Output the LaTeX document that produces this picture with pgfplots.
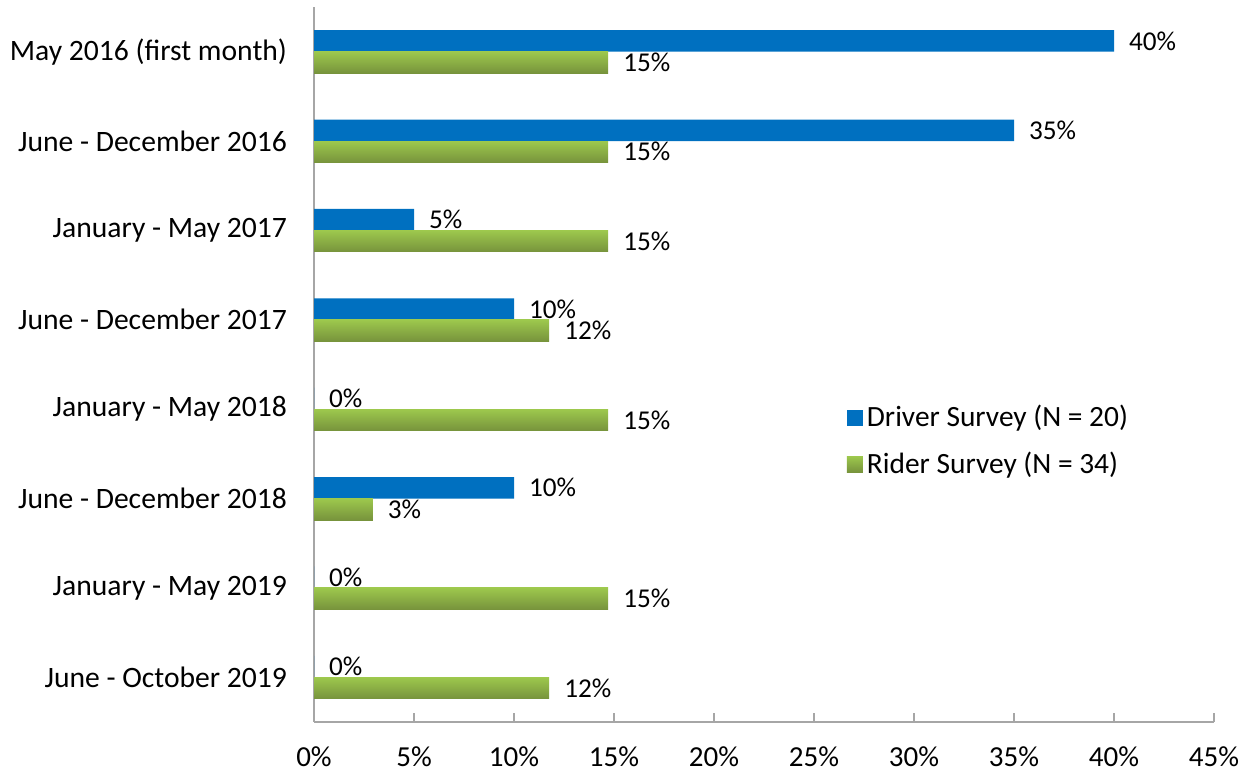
\documentclass[border=0pt]{standalone}
\usepackage{fontspec}
\setmainfont{Carlito}
\usepackage{pgfplots}
\pgfplotsset{compat=1.18}
\definecolor{drv}{HTML}{0070C0}
\definecolor{ridtop}{HTML}{9DC84D}
\definecolor{ridbot}{HTML}{77933C}
\definecolor{axgray}{HTML}{A6A6A6}

% each rider bar is its own plot so that the gradient is drawn per bar
\pgfplotsset{rider/.style={top color=ridtop, bottom color=ridbot, draw=none, bar shift=-5.375pt}}

\begin{document}
\begin{tikzpicture}
\begin{axis}[
  scale only axis, width=450pt, height=357.5pt,
  xmin=0, xmax=45, ymin=-0.5, ymax=7.5,
  xbar, bar width=10.75pt,
  axis lines*=left,
  axis line style={axgray, line width=1pt},
  clip=false,
  xtick={0,5,...,45},
  xticklabels={0\%,5\%,10\%,15\%,20\%,25\%,30\%,35\%,40\%,45\%},
  xtick style={axgray, line width=1pt},
  tick align=inside, major tick length=4.5pt,
  ytick={0,...,7},
  yticklabels={June - October 2019, January - May 2019, June - December 2018,
    January - May 2018, June - December 2017, January - May 2017,
    June - December 2016, May 2016 (first month)},
  ytick style={draw=none},
  xticklabel style={font=\fontsize{14.5}{16}\selectfont, yshift=-9pt},
  yticklabel style={font=\fontsize{14.8}{16}\selectfont, xshift=-10pt},
  /pgf/number format/assume math mode=true,
  nodes near coords={\pgfmathprintnumber[fixed,precision=0]{\pgfplotspointmeta}\%},
  every node near coord/.append style={font=\fontsize{13.6}{15}\selectfont, anchor=west, xshift=4pt, black},
  point meta=x,
  legend style={at={(0.585,0.4544)}, anchor=north west, draw=none, fill=none,
    font=\fontsize{14.7}{16}\selectfont, row sep=7pt},
  legend cell align=left,
  legend image code/.code={\draw[#1,draw=none] (-2pt,-4pt) rectangle (6pt,4pt);},
]
\addplot[fill=drv, draw=none, bar shift=5.375pt] coordinates {
  (40,7) (35,6) (5,5) (10,4) (0,3) (10,2) (0,1) (0,0)};
\addplot[rider] coordinates {(14.71,7)};
\addplot[rider, forget plot] coordinates {(14.71,6)};
\addplot[rider, forget plot] coordinates {(14.71,5)};
\addplot[rider, forget plot] coordinates {(11.76,4)};
\addplot[rider, forget plot] coordinates {(14.71,3)};
\addplot[rider, forget plot] coordinates {(2.94,2)};
\addplot[rider, forget plot] coordinates {(14.71,1)};
\addplot[rider, forget plot] coordinates {(11.76,0)};
\legend{Driver Survey (N = 20), Rider Survey (N = 34)}
\path (axis description cs:-0.3489,-0.0755) rectangle (axis description cs:1.04,1.0098);
\end{axis}
\end{tikzpicture}
\end{document}
